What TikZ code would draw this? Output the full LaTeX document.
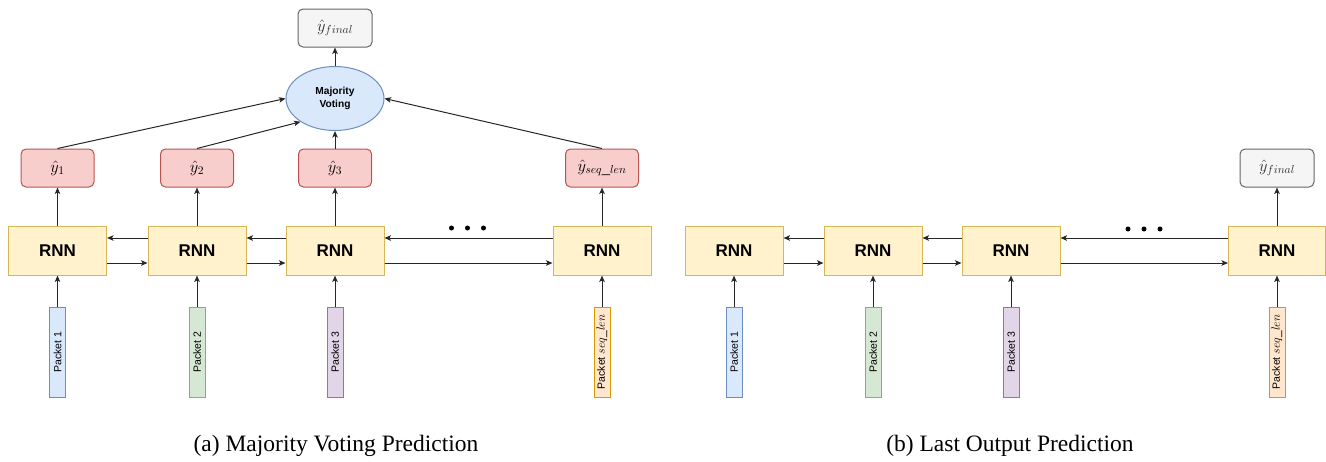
\RequirePackage{fix-cm}
\documentclass[tikz,border=0pt]{standalone}
\usepackage{fontspec}
\setmainfont{Liberation Serif}
\setsansfont{Liberation Sans}
\usetikzlibrary{shapes.geometric,arrows.meta}
\definecolor{rnnF}{HTML}{FFF2CC}
\definecolor{rnnS}{HTML}{D6B656}
\definecolor{redF}{HTML}{F8CECC}
\definecolor{redS}{HTML}{B85450}
\definecolor{grayF}{HTML}{F5F5F5}
\definecolor{grayS}{HTML}{666666}
\definecolor{grayT}{HTML}{333333}
\definecolor{blueF}{HTML}{DAE8FC}
\definecolor{blueS}{HTML}{6C8EBF}
\definecolor{greenF}{HTML}{D5E8D4}
\definecolor{greenS}{HTML}{82B366}
\definecolor{purpF}{HTML}{E1D5E7}
\definecolor{purpS}{HTML}{9673A6}
\definecolor{orangeF}{HTML}{FFE6CC}
\definecolor{orangeS}{HTML}{D79B00}
\tikzset{
  ln/.style={draw=black!85, line width=1pt},
  arr/.style={ln, -{Stealth[length=6.5pt,width=5.5pt,inset=1.5pt]}},
  rnn/.style={draw=rnnS, fill=rnnF, line width=1pt, minimum width=98pt, minimum height=49pt, inner sep=0pt,
    font=\sffamily\bfseries\fontsize{17}{20}\selectfont},
  yhat/.style={draw=redS, fill=redF, line width=1pt, rounded corners=5pt, minimum width=73pt, minimum height=38pt, inner sep=0pt,
    font=\fontsize{16.5}{19}\selectfont},
  yfin/.style={draw=grayS, fill=grayF, text=grayT, line width=1pt, rounded corners=5pt, minimum width=74pt, minimum height=38pt, inner sep=0pt,
    font=\fontsize{16.5}{19}\selectfont},
  vote/.style={ellipse, draw=blueS, fill=blueF, line width=1pt, minimum width=98pt, minimum height=64pt, inner sep=0pt, align=center,
    font=\sffamily\bfseries\fontsize{10.2}{13}\selectfont},
  pkt/.style={rotate=90, line width=1pt, minimum width=90pt, minimum height=16pt, inner sep=0pt,
    font=\sffamily\fontsize{10.5}{12}\selectfont},
  dotm/.style={circle, fill=black, inner sep=0pt, minimum size=5pt},
  captxt/.style={anchor=base, font=\fontsize{23.5}{27}\selectfont},
}
\begin{document}
\begin{tikzpicture}[x=1pt,y=-1pt]
\useasboundingbox (0,0) rectangle (1326,461);
% ---------- (a) ----------
\node[yfin] (fa) at (335,28) {$\hat{y}_{final}$};
\node[vote] (mv) at (335,98.5) {Majority\\Voting};
\node[yhat] (ya1) at (57.5,168) {$\hat{y}_1$};
\node[yhat] (ya2) at (197,168) {$\hat{y}_2$};
\node[yhat] (ya3) at (335,168) {$\hat{y}_3$};
\node[yhat] (ya4) at (602,168) {$\hat{y}_{seq\_len}$};
\node[rnn] (ra1) at (57.5,250.5) {RNN};
\node[rnn] (ra2) at (197,250.5) {RNN};
\node[rnn] (ra3) at (335,250.5) {RNN};
\node[rnn] (ra4) at (602,250.5) {RNN};
\node[pkt, draw=blueS, fill=blueF] (pa1) at (57.5,352) {Packet 1};
\node[pkt, draw=greenS, fill=greenF] (pa2) at (197,352) {Packet 2};
\node[pkt, draw=purpS, fill=purpF] (pa3) at (335,352) {Packet 3};
\node[pkt, draw=orangeS, fill=orangeF] (pa4) at (602,352) {Packet {\fontsize{12}{13}\selectfont$seq\_len$}};
\node[dotm] (da1) at (451.5,228) {};
\node[dotm] (da2) at (467.5,228) {};
\node[dotm] (da3) at (483.5,228) {};
\draw[arr] (mv.north) -- (fa.south);
\draw[arr] (ya1.north) -- (mv.west);
\draw[arr] (ya2.north) -- (mv.214);
\draw[arr] (ya3.north) -- (mv.south);
\draw[arr] (ya4.north) -- (mv.east);
\foreach \i in {1,2,3,4}{
  \draw[arr] (ra\i.north) -- (ya\i.south);
  \draw[arr] (pa\i.east) -- (ra\i.south);
}
\draw[arr] ([yshift=12.5pt]ra2.west) -- ([yshift=12.5pt]ra1.east);
\draw[arr] ([yshift=12.5pt]ra3.west) -- ([yshift=12.5pt]ra2.east);
\draw[arr] ([yshift=12.5pt]ra4.west) -- ([yshift=12.5pt]ra3.east);
\draw[arr] ([yshift=-12.5pt]ra1.east) -- ([yshift=-12.5pt]ra2.west);
\draw[arr] ([yshift=-12.5pt]ra2.east) -- ([yshift=-12.5pt]ra3.west);
\draw[arr] ([yshift=-12.5pt]ra3.east) -- ([yshift=-12.5pt]ra4.west);
\node[captxt] (capa) at (336,451.5) {(a) Majority Voting Prediction};
% ---------- (b) ----------
\node[yfin] (fb) at (1277,168) {$\hat{y}_{final}$};
\node[rnn] (rb1) at (734,250.5) {RNN};
\node[rnn] (rb2) at (873,250.5) {RNN};
\node[rnn] (rb3) at (1011,250.5) {RNN};
\node[rnn, minimum width=97pt] (rb4) at (1277,250.5) {RNN};
\node[pkt, draw=blueS, fill=blueF] (pb1) at (734,352) {Packet 1};
\node[pkt, draw=greenS, fill=greenF] (pb2) at (873,352) {Packet 2};
\node[pkt, draw=purpS, fill=purpF] (pb3) at (1011,352) {Packet 3};
\node[pkt, draw=orangeS, fill=orangeF] (pb4) at (1277,352) {Packet {\fontsize{12}{13}\selectfont$seq\_len$}};
\node[dotm] (db1) at (1128,229) {};
\node[dotm] (db2) at (1144,229) {};
\node[dotm] (db3) at (1160,229) {};
\draw[arr] (rb4.north) -- (fb.south);
\foreach \i in {1,2,3,4}{
  \draw[arr] (pb\i.east) -- (rb\i.south);
}
\draw[arr] ([yshift=12.5pt]rb2.west) -- ([yshift=12.5pt]rb1.east);
\draw[arr] ([yshift=12.5pt]rb3.west) -- ([yshift=12.5pt]rb2.east);
\draw[arr] ([yshift=12.5pt]rb4.west) -- ([yshift=12.5pt]rb3.east);
\draw[arr] ([yshift=-12.5pt]rb1.east) -- ([yshift=-12.5pt]rb2.west);
\draw[arr] ([yshift=-12.5pt]rb2.east) -- ([yshift=-12.5pt]rb3.west);
\draw[arr] ([yshift=-12.5pt]rb3.east) -- ([yshift=-12.5pt]rb4.west);
\node[captxt] (capb) at (1010,451.5) {(b) Last Output Prediction};
\end{tikzpicture}
\end{document}
